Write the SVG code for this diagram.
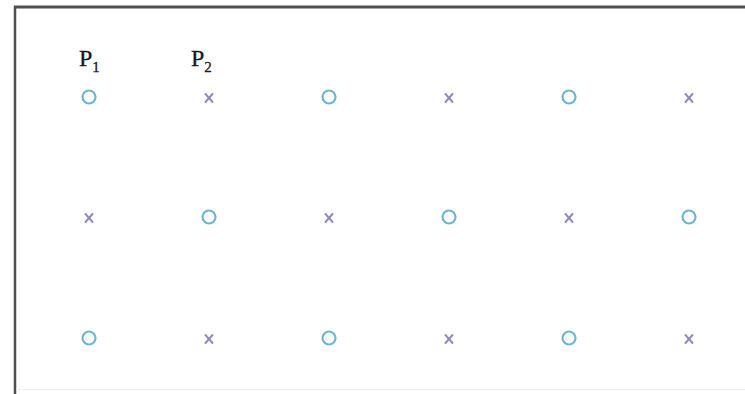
<svg xmlns="http://www.w3.org/2000/svg" width="745" height="394" viewBox="0 0 745 394">
<style>
.o{fill:none;stroke:#6fb6d6;stroke-width:2.2}
.x{stroke:#9486c4;stroke-width:1.9;stroke-linecap:round}
.lbl{font-family:"Liberation Serif",serif;font-size:24px;fill:#1a1a1a;stroke:#1a1a1a;stroke-width:0.3}
.sub{font-size:15px}
</style>
<defs>
<circle id="o" class="o" r="6.5"/>
<g id="x"><line class="x" x1="-3.5" y1="-4" x2="3.5" y2="4"/><line class="x" x1="-3.5" y1="4" x2="3.5" y2="-4"/></g>
</defs>
<rect width="745" height="394" fill="#fff"/>
<g id="frame" fill="none">
<line x1="14" y1="7" x2="745" y2="7" stroke="#505050" stroke-width="3"/>
<line x1="15" y1="6" x2="15" y2="394" stroke="#505050" stroke-width="2.5"/>
<line x1="16" y1="389.5" x2="745" y2="389.5" stroke="#f0f0f0" stroke-width="1"/>
</g>
<g id="labels">
<text class="lbl" x="79" y="66">P<tspan class="sub" dy="6">1</tspan></text>
<text class="lbl" x="191" y="66">P<tspan class="sub" dy="6">2</tspan></text>
</g>
<g id="row1">
<use href="#o" x="89" y="97"/><use href="#x" x="209" y="98"/><use href="#o" x="329" y="97"/><use href="#x" x="449" y="98"/><use href="#o" x="569" y="97"/><use href="#x" x="689" y="98"/>
</g>
<g id="row2">
<use href="#x" x="89" y="218"/><use href="#o" x="209" y="217"/><use href="#x" x="329" y="218"/><use href="#o" x="449" y="217"/><use href="#x" x="569" y="218"/><use href="#o" x="689" y="217"/>
</g>
<g id="row3">
<use href="#o" x="89" y="338"/><use href="#x" x="209" y="339"/><use href="#o" x="329" y="338"/><use href="#x" x="449" y="339"/><use href="#o" x="569" y="338"/><use href="#x" x="689" y="339"/>
</g>
<g id="connectors"/>
</svg>
